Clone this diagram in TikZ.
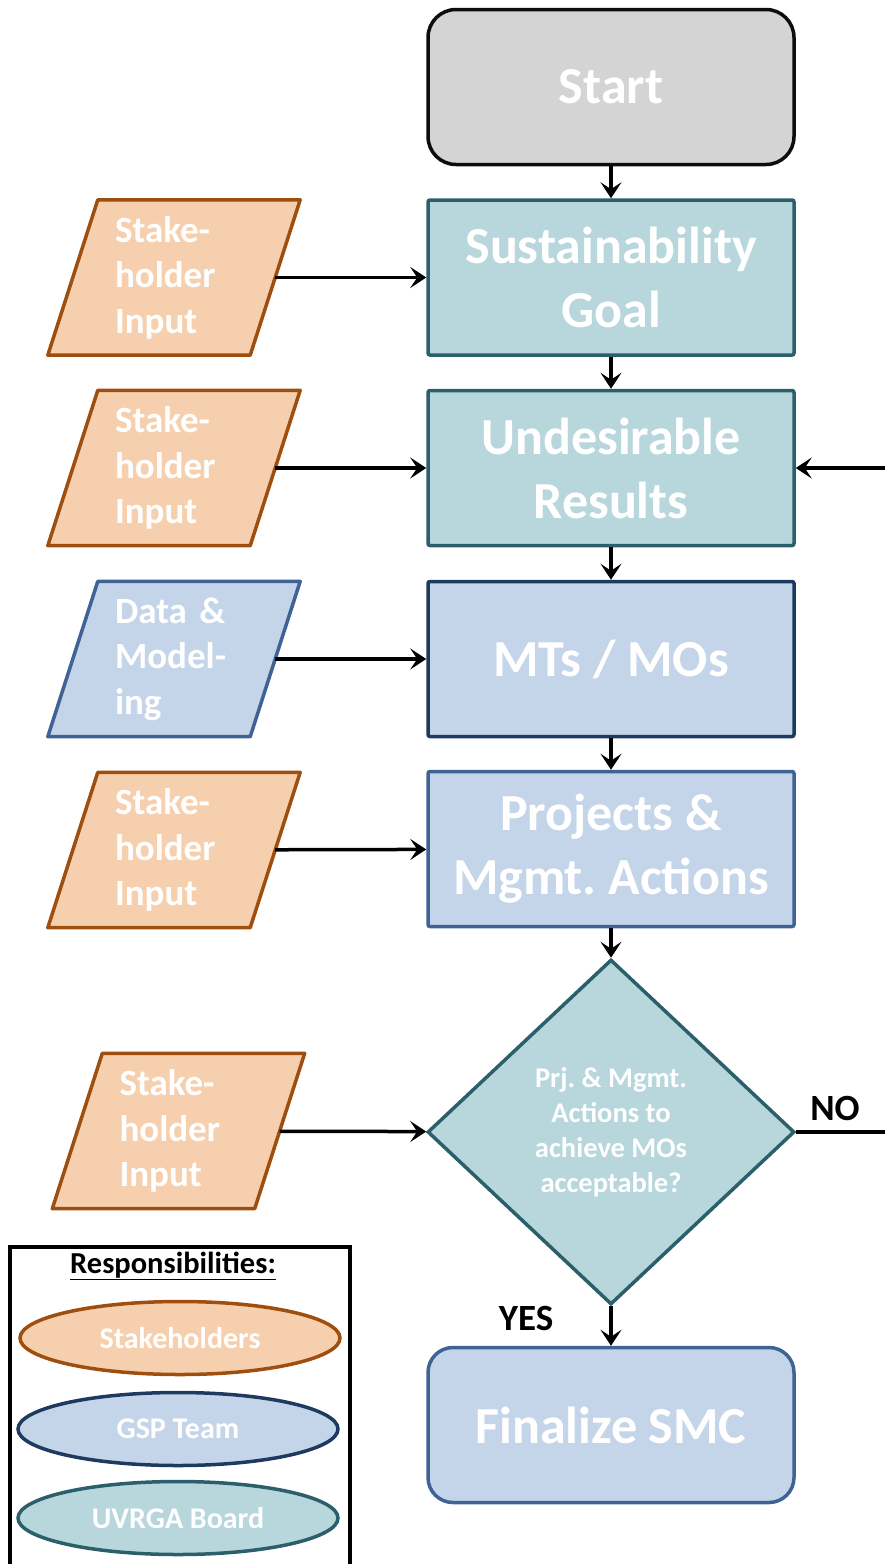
\documentclass[tikz,border=0pt]{standalone}
\usepackage{fontspec}
\setmainfont{Carlito}
\frenchspacing
\usetikzlibrary{shapes.geometric,arrows.meta,backgrounds}
\definecolor{grayfill}{HTML}{D4D4D4}
\definecolor{tealfill}{HTML}{B8D7DD}
\definecolor{tealline}{HTML}{2B5F6B}
\definecolor{bluefill}{HTML}{C5D5E9}
\definecolor{navyline}{HTML}{1F3A60}
\definecolor{blueline}{HTML}{3F6394}
\definecolor{orangefill}{HTML}{F6D0AE}
\definecolor{orangeline}{HTML}{9E4F10}

\begin{document}
\begin{tikzpicture}[x=1pt,y=-1pt]
  \tikzset{bigtxt/.style = {font=\bfseries\fontsize{52}{64}\selectfont, text=white, align=center},
    procbox/.style = {bigtxt, line width=3.5pt, minimum width=366pt, minimum height=155pt, rounded corners=2pt},
    inbox/.style = {font=\bfseries\fontsize{37}{45.5}\selectfont, text=white, align=left,
      text width=118pt, inner xsep=42pt, minimum height=155pt},
    para/.style = {line width=3.5pt, line join=round},
    legell/.style = {ellipse, line width=3.5pt, minimum width=320pt, minimum height=73pt,
      font=\bfseries\fontsize{30}{36}\selectfont, text=white},
    arr/.style = {line width=3.5pt, -{Stealth[length=16pt,width=21pt,inset=7pt]}},
    lbl/.style = {font=\bfseries\fontsize{37}{44}\selectfont}}
  \path[use as bounding box, clip] (0,0) rectangle (885,1564);

  \node[procbox, rounded corners=28pt, draw=black!95, fill=grayfill] (start) at (611,87) {Start};
  \node[procbox, draw=tealline, fill=tealfill] (goal) at (611,277.5) {Sustainability\\Goal};
  \node[procbox, draw=tealline, fill=tealfill] (undes) at (611,468) {Undesirable\\Results};
  \node[procbox, draw=navyline, fill=bluefill] (mts) at (611,659) {MTs / MOs};
  \node[procbox, draw=blueline, fill=bluefill] (proj) at (611,849) {Projects \&\\Mgmt. Actions};
  \node[diamond, draw=tealline, fill=tealfill, line width=3.5pt, minimum width=367pt, minimum height=345pt,
    inner sep=0pt, text=white, align=center, font=\bfseries\fontsize{28.5}{35}\selectfont] (dec) at (611,1132)
    {Prj. \& Mgmt.\\Actions to\\achieve MOs\\acceptable?};
  \node[procbox, rounded corners=25pt, draw=blueline, fill=bluefill] (final) at (611,1425) {Finalize SMC};

  \node[inbox] (in1) at (174,277.5) {Stake-\\holder\\Input};
  \node[inbox] (in2) at (174,468) {Stake-\\holder\\Input};
  \node[inbox] (in3) at (174,659) {Data \&\\Model-\\ing};
  \node[inbox] (in4) at (174,850) {Stake-\\holder\\Input};
  \node[inbox] (in5) at (178.5,1131) {Stake-\\holder\\Input};

  \begin{scope}[on background layer]
    \foreach \n/\f/\c in {in1/orangefill/orangeline, in2/orangefill/orangeline, in3/bluefill/blueline,
      in4/orangefill/orangeline, in5/orangefill/orangeline}
      \draw[para, draw=\c, fill=\f] ([xshift=25pt]\n.north west) -- ([xshift=25pt]\n.north east)
        -- ([xshift=-25pt]\n.south east) -- ([xshift=-25pt]\n.south west) -- cycle;
  \end{scope}

  \draw[arr] (start) -- (goal);
  \draw[arr] (goal) -- (undes);
  \draw[arr] (undes) -- (mts);
  \draw[arr] (mts) -- (proj);
  \draw[arr] (proj) -- (dec);
  \draw[arr] (dec) -- (final);
  \foreach \a/\b in {in1/goal, in2/undes, in3/mts, in4/proj, in5/dec}
    \draw[arr] (\a) -- (\b);

  \coordinate (noend) at (885,1132);
  \coordinate (back) at (885,468);
  \draw[line width=3.5pt] (dec) -- (noend);
  \draw[arr] (back) -- (undes);
  \node[lbl] (no) at (835,1108) {NO};
  \node[lbl] (yes) at (526,1318) {YES};

  % legend
  \draw[line width=3.5pt] (10,1580) -- (10,1247) -- (350,1247) -- (350,1580);
  \node[font=\bfseries\fontsize{30.5}{36}\selectfont] (resp) at (173,1266) {\underline{Responsibilities:}};
  \node[legell, draw=orangeline, fill=orangefill] (stk) at (180,1338) {Stakeholders};
  \node[legell, draw=navyline, fill=bluefill] (gsp) at (178,1429) {GSP Team};
  \node[legell, draw=tealline, fill=tealfill] (uvr) at (178,1518) {UVRGA Board};
\end{tikzpicture}
\end{document}
